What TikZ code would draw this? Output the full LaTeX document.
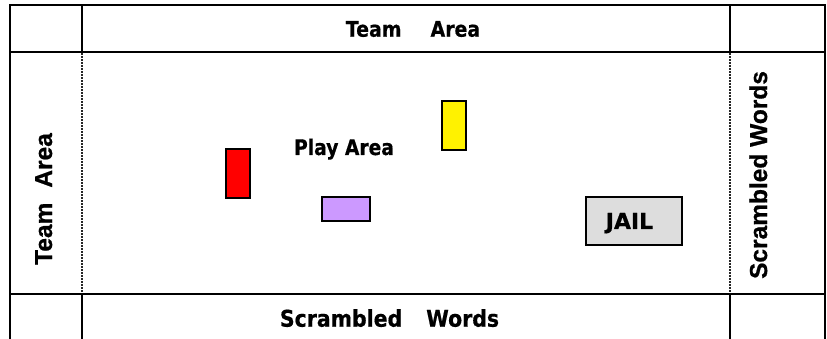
\documentclass[tikz,border=0pt]{standalone}
\usepackage{fontspec}
\usepackage{graphicx}
\setmainfont{DejaVu Sans}[BoldFeatures={FakeBold=0.6}]
\newfontfamily\arialb{Liberation Sans}[BoldFont=* Bold,BoldFeatures={FakeBold=0.8}]
\definecolor{lilac}{HTML}{CC99FF}
\definecolor{jailgray}{HTML}{DDDDDD}
\begin{document}
\begin{tikzpicture}[x=1pt,y=-1pt,
  frame/.style={line width=2.2pt,line cap=rect},
  dotline/.style={line width=2pt,black!85,dash pattern=on 1.6pt off 1.4pt},
  piece/.style={draw=black,line width=1.6pt},
  lbl/.style={font=\bfseries\fontsize{21.5}{24}\selectfont,inner sep=0pt,anchor=base},
  vlbl/.style={font=\arialb\bfseries\fontsize{24.5}{26}\selectfont,inner sep=0pt,anchor=base,rotate=90}]
\useasboundingbox (0,0) rectangle (827,339);
% frame
\draw[frame] (10,345) -- (10,5) -- (825,5) -- (825,345);
\draw[frame] (10,52) -- (825,52);
\draw[frame] (10,294) -- (825,294);
\draw[frame] (82,5) -- (82,52);
\draw[frame] (730,5) -- (730,52);
\draw[frame] (82,294) -- (82,345);
\draw[frame] (730,294) -- (730,345);
\draw[dotline] (82,53) -- (82,293);
\draw[dotline] (730,53) -- (730,293);
% pieces
\draw[piece,fill=red] (226,149) rectangle (250,198);
\draw[piece,fill=lilac] (322,197) rectangle (370,221);
\draw[piece,fill=yellow] (442,101) rectangle (466,150);
\draw[piece,fill=jailgray] (586,197) rectangle (682,245);
% labels
\node[lbl] (top) at (413,36.7) {\scalebox{0.88}[1]{Team\hspace{33pt}Area}};
\node[lbl] (play) at (344,155) {\scalebox{0.87}[1]{Play Area}};
\node[lbl,font=\bfseries\fontsize{23}{25}\selectfont] (bottom) at (389.5,326.7) {\scalebox{0.89}[1]{Scrambled\hspace{27pt}Words}};
\node[lbl,font=\bfseries\fontsize{22}{24}\selectfont] (jail) at (629.5,229) {JAIL};
\node[vlbl] (left) at (52,199) {Team\hspace{15pt}Area};
\node[vlbl] (right) at (767,175) {Scrambled Words};
\end{tikzpicture}
\end{document}
